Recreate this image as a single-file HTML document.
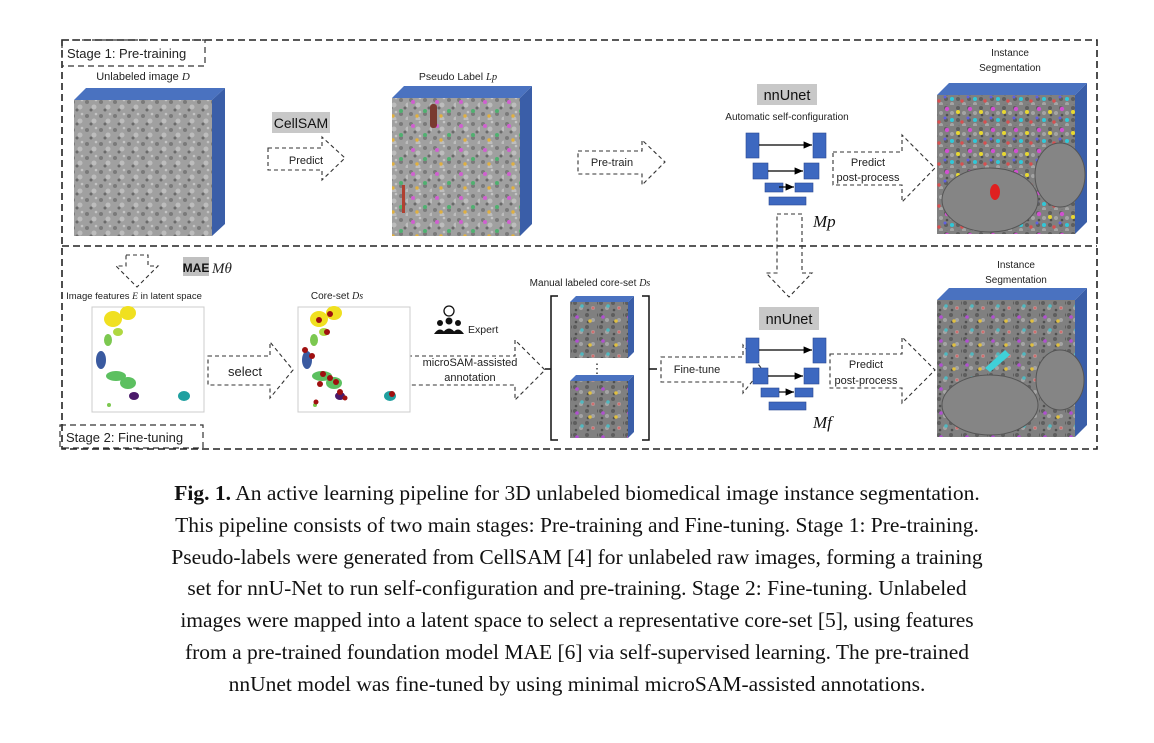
<!DOCTYPE html>
<html><head><meta charset="utf-8">
<style>
html,body{margin:0;padding:0;background:#fff;}
body{width:1154px;height:743px;position:relative;overflow:hidden;font-family:"Liberation Sans",sans-serif;}
svg{position:absolute;left:0;top:0;}
.cap{position:absolute;left:0;top:478px;width:1154px;text-align:center;font-family:"Liberation Serif",serif;font-size:21.5px;line-height:31.8px;color:#111;}
</style></head><body>
<svg width="1154" height="480" viewBox="0 0 1154 480" font-family="Liberation Sans, sans-serif">
<defs>
<pattern id="em" width="14" height="14" patternUnits="userSpaceOnUse">
<rect width="14" height="14" fill="#a0a0a0"/>
<circle cx="3" cy="4" r="2" fill="#7a7a7a"/><circle cx="10" cy="9" r="2.5" fill="#bdbdbd"/><circle cx="7" cy="12" r="1.5" fill="#6a6a6a"/><circle cx="12" cy="2" r="1.3" fill="#c4c4c4"/>
</pattern>
<pattern id="em2" width="12" height="12" patternUnits="userSpaceOnUse">
<rect width="12" height="12" fill="#808080"/>
<circle cx="3" cy="3" r="2" fill="#5e5e5e"/><circle cx="9" cy="8" r="2" fill="#a4a4a4"/><circle cx="4" cy="10" r="1.3" fill="#505050"/>
</pattern>
<pattern id="seg" width="23" height="21" patternUnits="userSpaceOnUse">
<rect width="23" height="21" fill="url(#em2)"/>
<circle cx="4" cy="4" r="2.2" fill="#d050d0"/><circle cx="15" cy="7" r="2" fill="#e8d830"/><circle cx="9" cy="15" r="2" fill="#30c8d8"/><circle cx="19" cy="17" r="1.7" fill="#d85050"/><circle cx="2" cy="13" r="1.5" fill="#6060e0"/>
</pattern>
<pattern id="seg2" width="26" height="24" patternUnits="userSpaceOnUse">
<rect width="26" height="24" fill="url(#em2)"/>
<circle cx="5" cy="5" r="1.8" fill="#b050d0"/><circle cx="18" cy="9" r="1.8" fill="#e0c040"/><circle cx="10" cy="18" r="1.8" fill="#50b8c0"/><circle cx="21" cy="20" r="1.5" fill="#d07070"/>
</pattern>
<pattern id="pl" width="24" height="24" patternUnits="userSpaceOnUse">
<rect width="24" height="24" fill="url(#em)"/>
<circle cx="5" cy="6" r="2" fill="#d060d0"/><circle cx="17" cy="15" r="2" fill="#50b070"/><circle cx="9" cy="20" r="1.7" fill="#e0b040"/>
</pattern>
<marker id="ah" markerWidth="8" markerHeight="8" refX="7" refY="4" orient="auto"><path d="M0,1 L7,4 L0,7z" fill="#000"/></marker>
</defs>

<g fill="none" stroke="#222" stroke-width="1.6" stroke-dasharray="7,4">
<rect x="62" y="40" width="1035" height="409"/>
<line x1="62" y1="246" x2="1097" y2="246"/>
</g>
<g fill="none" stroke="#333" stroke-width="1.2" stroke-dasharray="6,4">
<rect x="62" y="40" width="143" height="26"/>
<rect x="60" y="425" width="143" height="23"/>
</g>
<text x="67" y="58" font-size="13" fill="#222">Stage 1: Pre-training</text>
<text x="66" y="442" font-size="13" fill="#222">Stage 2: Fine-tuning</text>

<polygon points="74,100 86,88 225,88 212,100" fill="#4a72c0"/>
<polygon points="212,100 225,88 225,224 212,236" fill="#3a5ea8"/>
<rect x="74" y="100" width="138" height="136" fill="url(#em)"/>
<text x="143" y="80" font-size="11" text-anchor="middle" fill="#222">Unlabeled image <tspan font-family="Liberation Serif" font-style="italic">D</tspan></text>

<polygon points="392,98 404,86 532,86 520,98" fill="#4a72c0"/>
<polygon points="520,98 532,86 532,224 520,236" fill="#3a5ea8"/>
<rect x="392" y="98" width="128" height="138" fill="url(#pl)"/>
<rect x="430" y="104" width="7" height="24" rx="3" fill="#7a3a30"/>
<rect x="402" y="185" width="3" height="28" fill="#b04030"/>
<text x="458" y="80" font-size="10.5" text-anchor="middle" fill="#222">Pseudo Label <tspan font-family="Liberation Serif" font-style="italic">Lp</tspan></text>

<rect x="272" y="112" width="58" height="21" fill="#c8c8c8"/>
<text x="301" y="128" font-size="14" text-anchor="middle" fill="#111">CellSAM</text>

<g fill="none" stroke="#333" stroke-width="1.1" stroke-dasharray="4,3">
<path d="M268,148 L322,148 L322,137 L345,158 L322,180 L322,170 L268,170 Z"/>
<path d="M578,151 L642,151 L642,140 L665,162 L642,185 L642,174 L578,174 Z"/>
<path d="M833,152 L902,152 L902,135 L935,168 L902,202 L902,185 L833,185 Z"/>
<path d="M777,214 L802,214 L802,273 L812,273 L789,297 L766,273 L777,273 Z"/>
<path d="M661,357 L743,357 L743,345 L762,369 L743,393 L743,382 L661,382 Z"/>
<path d="M830,354 L902,354 L902,337 L935,370 L902,403 L902,388 L830,388 Z"/>
<path d="M208,356 L270,356 L270,342 L293,370 L270,398 L270,385 L208,385 Z"/>
<path d="M408,356 L515,356 L515,340 L545,370 L515,400 L515,385 L408,385 Z"/>
<path d="M126,255 L148,255 L148,266 L158,266 L137,287 L116,266 L126,266 Z"/>
</g>
<text x="306" y="164" font-size="11" text-anchor="middle" fill="#222">Predict</text>
<text x="612" y="166" font-size="11" text-anchor="middle" fill="#222">Pre-train</text>
<text x="868" y="166" font-size="11" text-anchor="middle" fill="#222">Predict</text>
<text x="868" y="181" font-size="11" text-anchor="middle" fill="#222">post-process</text>
<text x="697" y="373" font-size="11" text-anchor="middle" fill="#222">Fine-tune</text>
<text x="866" y="368" font-size="11" text-anchor="middle" fill="#222">Predict</text>
<text x="866" y="384" font-size="11" text-anchor="middle" fill="#222">post-process</text>
<text x="245" y="376" font-size="13" text-anchor="middle" fill="#222">select</text>
<text x="470" y="366" font-size="11" text-anchor="middle" fill="#222">microSAM-assisted</text>
<text x="470" y="381" font-size="11" text-anchor="middle" fill="#222">annotation</text>

<rect x="757" y="84" width="60" height="21" fill="#c8c8c8"/>
<text x="787" y="100" font-size="14.5" text-anchor="middle" fill="#111">nnUnet</text>
<text x="787" y="120" font-size="10" text-anchor="middle" fill="#222">Automatic self-configuration</text>
<g fill="#3d68c0" stroke="#2a4a90" stroke-width="0.6">
<rect x="746" y="133" width="13" height="25"/><rect x="813" y="133" width="13" height="25"/>
<rect x="753" y="163" width="15" height="16"/><rect x="804" y="163" width="15" height="16"/>
<rect x="765" y="183" width="18" height="9"/><rect x="795" y="183" width="18" height="9"/>
<rect x="769" y="197" width="37" height="8"/>
</g>
<g stroke="#000" stroke-width="1.2" marker-end="url(#ah)">
<line x1="759" y1="145" x2="812" y2="145"/><line x1="768" y1="171" x2="803" y2="171"/><line x1="779" y1="187" x2="794" y2="187"/>
</g>
<text x="813" y="227" font-size="17" font-family="Liberation Serif" font-style="italic" fill="#111">Mp</text>

<rect x="759" y="307" width="60" height="23" fill="#c8c8c8"/>
<text x="789" y="324" font-size="14.5" text-anchor="middle" fill="#111">nnUnet</text>
<g fill="#3d68c0" stroke="#2a4a90" stroke-width="0.6">
<rect x="746" y="338" width="13" height="25"/><rect x="813" y="338" width="13" height="25"/>
<rect x="753" y="368" width="15" height="16"/><rect x="804" y="368" width="15" height="16"/>
<rect x="761" y="388" width="18" height="9"/><rect x="795" y="388" width="18" height="9"/>
<rect x="769" y="402" width="37" height="8"/>
</g>
<g stroke="#000" stroke-width="1.2" marker-end="url(#ah)">
<line x1="759" y1="350" x2="812" y2="350"/><line x1="768" y1="376" x2="803" y2="376"/><line x1="779" y1="392" x2="794" y2="392"/>
</g>
<text x="813" y="428" font-size="17" font-family="Liberation Serif" font-style="italic" fill="#111">Mf</text>

<text x="1010" y="56" font-size="10" text-anchor="middle" fill="#222">Instance</text>
<text x="1010" y="71" font-size="10" text-anchor="middle" fill="#222">Segmentation</text>
<polygon points="937,95 949,83 1087,83 1075,95" fill="#4a72c0"/>
<polygon points="1075,95 1087,83 1087,222 1075,234" fill="#3a5ea8"/>
<rect x="937" y="95" width="138" height="139" fill="url(#seg)"/>
<ellipse cx="990" cy="200" rx="48" ry="32" fill="#858585" stroke="#555"/>
<ellipse cx="1060" cy="175" rx="25" ry="32" fill="#858585" stroke="#555"/>
<ellipse cx="995" cy="192" rx="5" ry="8" fill="#e02020"/>

<text x="1016" y="268" font-size="10" text-anchor="middle" fill="#222">Instance</text>
<text x="1016" y="283" font-size="10" text-anchor="middle" fill="#222">Segmentation</text>
<polygon points="937,300 949,288 1087,288 1075,300" fill="#4a72c0"/>
<polygon points="1075,300 1087,288 1087,425 1075,437" fill="#3a5ea8"/>
<rect x="937" y="300" width="138" height="137" fill="url(#seg2)"/>
<ellipse cx="990" cy="405" rx="48" ry="30" fill="#858585" stroke="#555"/>
<ellipse cx="1060" cy="380" rx="24" ry="30" fill="#858585" stroke="#555"/>
<path d="M985,368 L1005,350 L1010,355 L990,372z" fill="#40d0d8"/>

<rect x="183" y="257" width="26" height="19" fill="#c0c0c0"/>
<text x="196" y="272" font-size="12" font-weight="bold" text-anchor="middle" fill="#111">MAE</text>
<text x="212" y="273" font-size="15" font-family="Liberation Serif" font-style="italic" fill="#222">Mθ</text>
<text x="134" y="299" font-size="9.5" text-anchor="middle" fill="#222">Image features <tspan font-family="Liberation Serif" font-style="italic">E</tspan> in latent space</text>
<text x="337" y="299" font-size="10" text-anchor="middle" fill="#222">Core-set <tspan font-family="Liberation Serif" font-style="italic">Ds</tspan></text>

<g id="sc">
<rect x="92" y="307" width="112" height="105" fill="#fff" stroke="#ccc"/>
<ellipse cx="113" cy="319" rx="9" ry="8" fill="#f0e020"/><ellipse cx="128" cy="313" rx="8" ry="7" fill="#f0e020"/>
<ellipse cx="118" cy="332" rx="5" ry="4" fill="#b0d840"/>
<ellipse cx="108" cy="340" rx="4" ry="6" fill="#7cc850"/>
<ellipse cx="101" cy="360" rx="5" ry="9" fill="#3a5aa0"/>
<ellipse cx="116" cy="376" rx="10" ry="5" fill="#5cc060"/><ellipse cx="128" cy="383" rx="8" ry="6" fill="#5cc060"/>
<ellipse cx="134" cy="396" rx="5" ry="4" fill="#4a1a6a"/>
<ellipse cx="184" cy="396" rx="6" ry="5" fill="#20a0a0"/>
<circle cx="109" cy="405" r="2" fill="#7cc850"/>
</g>
<use href="#sc" x="206"/>
<g fill="#a01010">
<circle cx="319" cy="320" r="3"/><circle cx="330" cy="314" r="3"/><circle cx="327" cy="332" r="3"/><circle cx="305" cy="350" r="3"/><circle cx="312" cy="356" r="3"/><circle cx="323" cy="374" r="3"/><circle cx="330" cy="378" r="3"/><circle cx="336" cy="382" r="3"/><circle cx="320" cy="384" r="3"/><circle cx="340" cy="392" r="3"/><circle cx="392" cy="394" r="3"/><circle cx="316" cy="402" r="2.5"/><circle cx="345" cy="398" r="2.5"/>
</g>

<circle cx="449" cy="311" r="5" fill="none" stroke="#111" stroke-width="1.3"/>
<g fill="#111">
<circle cx="440" cy="323" r="3"/><circle cx="449" cy="321" r="3.5"/><circle cx="458" cy="323" r="3"/>
<path d="M434,334 q6,-9 12,0z"/><path d="M442,334 q7,-11 14,0z"/><path d="M452,334 q6,-9 12,0z"/>
</g>
<text x="468" y="333" font-size="10.5" fill="#222">Expert</text>

<text x="590" y="286" font-size="10" text-anchor="middle" fill="#222">Manual labeled core-set <tspan font-family="Liberation Serif" font-style="italic">Ds</tspan></text>
<path d="M558,296 L551,296 L551,440 L558,440" fill="none" stroke="#111" stroke-width="1.5"/>
<path d="M642,296 L649,296 L649,440 L642,440" fill="none" stroke="#111" stroke-width="1.5"/>
<line x1="545" y1="369" x2="551" y2="369" stroke="#111" stroke-width="1.5"/>
<line x1="649" y1="369" x2="657" y2="369" stroke="#111" stroke-width="1.5"/>
<polygon points="570,302 576,296 634,296 628,302" fill="#4a72c0"/>
<polygon points="628,302 634,296 634,352 628,358" fill="#3a5ea8"/>
<rect x="570" y="302" width="58" height="56" fill="url(#seg2)"/>
<polygon points="570,381 576,375 634,375 628,381" fill="#4a72c0"/>
<polygon points="628,381 634,375 634,432 628,438" fill="#3a5ea8"/>
<rect x="570" y="381" width="58" height="57" fill="url(#seg2)"/>
<text x="597" y="373" font-size="13" text-anchor="middle" fill="#222">⋮</text>
</svg>
<div class="cap"><b>Fig. 1.</b> An active learning pipeline for 3D unlabeled biomedical image instance segmentation.<br>This pipeline consists of two main stages: Pre-training and Fine-tuning. Stage 1: Pre-training.<br>Pseudo-labels were generated from CellSAM [4] for unlabeled raw images, forming a training<br>set for nnU-Net to run self-configuration and pre-training. Stage 2: Fine-tuning. Unlabeled<br>images were mapped into a latent space to select a representative core-set [5], using features<br>from a pre-trained foundation model MAE [6] via self-supervised learning. The pre-trained<br>nnUnet model was fine-tuned by using minimal microSAM-assisted annotations.</div>
</body></html>
